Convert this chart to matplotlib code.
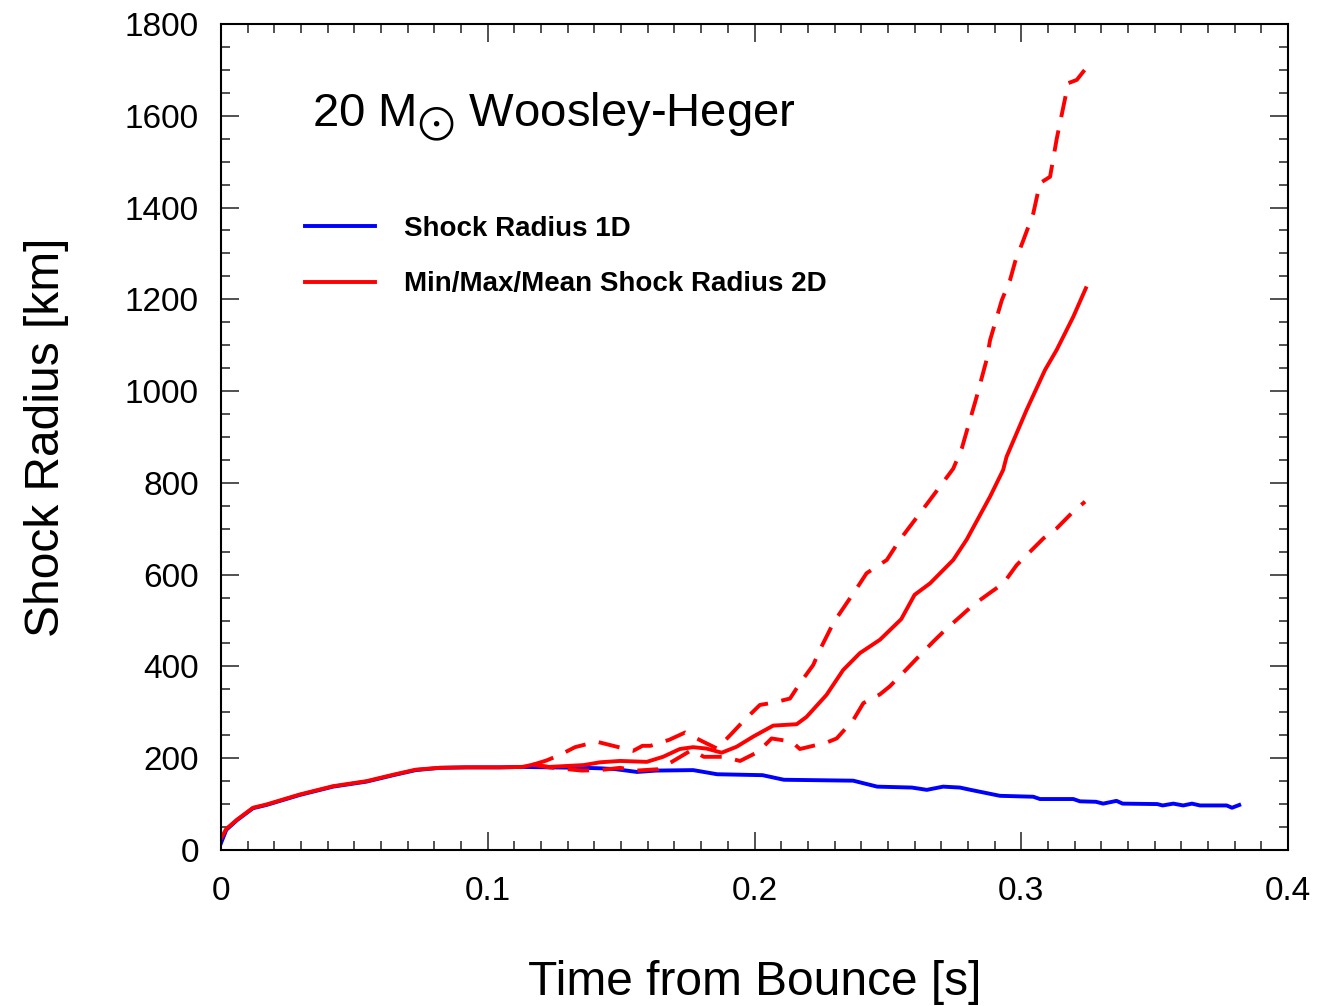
import numpy as np
import matplotlib.pyplot as plt
from matplotlib.ticker import MultipleLocator

plt.rcParams['font.family'] = ['Liberation Sans', 'DejaVu Sans']

# 1D shock radius
t_1d = [0.0, 0.002, 0.006, 0.012, 0.017, 0.0296, 0.042, 0.0546, 0.0646, 0.073,
        0.082, 0.092, 0.1046, 0.113, 0.123, 0.136, 0.142, 0.148, 0.156, 0.163,
        0.177, 0.186, 0.203, 0.211, 0.237, 0.246, 0.259, 0.2646, 0.2707, 0.277,
        0.281, 0.292, 0.3045, 0.307, 0.3195, 0.322, 0.328, 0.3307, 0.3357, 0.338,
        0.351, 0.353, 0.357, 0.3607, 0.364, 0.367, 0.377, 0.379, 0.3817]
r_1d = [15, 44, 65, 91, 98, 120, 138, 149, 163, 174,
        179, 180, 180, 181, 180, 179, 178, 176, 170, 173,
        174, 165, 163, 153, 151, 138, 136, 131, 138, 136,
        131, 118, 116, 111, 111, 106, 105, 101, 107, 101,
        100, 97, 101, 97, 101, 97, 97, 92, 98]

# 2D mean shock radius
t_mean = [0.0, 0.002, 0.006, 0.012, 0.017, 0.0296, 0.042, 0.0546, 0.0646, 0.073,
          0.082, 0.092, 0.1046, 0.113, 0.117, 0.123, 0.136, 0.142, 0.1496, 0.1596,
          0.1657, 0.172, 0.177, 0.182, 0.1877, 0.1933, 0.1995, 0.207, 0.2158, 0.2195,
          0.227, 0.2332, 0.2395, 0.247, 0.255, 0.260, 0.2658, 0.2745, 0.2795, 0.2883,
          0.2932, 0.2945, 0.302, 0.3089, 0.3133, 0.3195, 0.3242]
r_mean = [25, 46, 66, 92, 99, 121, 139, 150, 164, 175,
          179, 180, 180, 181, 186, 181, 185, 191, 194, 192,
          203, 220, 224, 221, 212, 225, 247, 271, 274, 290,
          338, 392, 429, 458, 503, 556, 581, 632, 676, 770,
          828, 857, 959, 1046, 1090, 1162, 1224]

# 2D max shock radius
t_max = [0.117, 0.122, 0.127, 0.1327, 0.1408, 0.147, 0.1545, 0.158, 0.161, 0.168,
         0.174, 0.1807, 0.186, 0.1915, 0.1957, 0.202, 0.207, 0.2133, 0.217, 0.222,
         0.2245, 0.2295, 0.232, 0.2383, 0.242, 0.2496, 0.2545, 0.2658, 0.2745, 0.2777,
         0.2833, 0.287, 0.2883, 0.2927, 0.2958, 0.2977, 0.3008, 0.3045, 0.307, 0.3108,
         0.3133, 0.3158, 0.3176, 0.3208, 0.3242]
r_max = [186, 195, 207, 224, 236, 227, 216, 227, 227, 240,
         256, 236, 221, 254, 280, 316, 321, 330, 363, 403,
         436, 494, 516, 570, 603, 632, 676, 763, 831, 875,
         988, 1068, 1111, 1198, 1242, 1282, 1329, 1387, 1453, 1467,
         1550, 1620, 1671, 1678, 1703]

# 2D min shock radius
t_min = [0.117, 0.123, 0.1352, 0.142, 0.1496, 0.1558, 0.1639, 0.169, 0.1765, 0.181,
         0.1883, 0.1946, 0.2014, 0.2064, 0.214, 0.217, 0.227, 0.2308, 0.237, 0.2408,
         0.247, 0.2508, 0.257, 0.2608, 0.267, 0.2714, 0.277, 0.282, 0.2889, 0.2933,
         0.2983, 0.3083, 0.3133, 0.3189, 0.3239]
r_min = [186, 180, 173, 174, 179, 173, 176, 192, 218, 203,
         203, 194, 214, 243, 236, 220, 234, 243, 283, 320,
         339, 357, 394, 417, 454, 479, 508, 534, 563, 581,
         621, 679, 701, 734, 759]

fig = plt.figure(figsize=(13.17, 10.06), dpi=100)
ax = fig.add_axes([0.1678, 0.1551, 0.8102, 0.8211])

lw = 2.8
ax.plot(t_1d, r_1d, color='#0000ff', lw=lw, label='Shock Radius 1D')
ax.plot(t_max, r_max, color='#ff0000', lw=lw, ls=(0, (5.5, 3.5)))
ax.plot(t_min, r_min, color='#ff0000', lw=lw, ls=(0, (5.5, 3.5)))
ax.plot(t_mean, r_mean, color='#ff0000', lw=lw, label='Min/Max/Mean Shock Radius 2D')

ax.set_xlim(0, 0.4)
ax.set_ylim(0, 1800)
ax.xaxis.set_major_locator(MultipleLocator(0.1))
ax.xaxis.set_minor_locator(MultipleLocator(0.01))
ax.yaxis.set_major_locator(MultipleLocator(200))
ax.yaxis.set_minor_locator(MultipleLocator(50))
ax.set_xticks([0, 0.1, 0.2, 0.3, 0.4], ['0', '0.1', '0.2', '0.3', '0.4'])

ax.tick_params(which='both', direction='in', top=True, right=True,
               labelsize=24, color='#333333')
ax.tick_params(axis='x', pad=19)
ax.tick_params(axis='y', pad=16)
ax.tick_params(which='major', length=13, width=1.2)
ax.tick_params(which='minor', length=6.5, width=1.2)
for s in ax.spines.values():
    s.set_linewidth(1.5)

ax.set_xlabel('Time from Bounce [s]', fontsize=34.5, labelpad=38)
ax.set_ylabel('Shock Radius [km]', fontsize=34.5, labelpad=40)

ax.text(0.085, 0.875, r'20 M$_{\bigodot}$ Woosley-Heger', transform=ax.transAxes,
        fontsize=34, ha='left', va='baseline', math_fontfamily='stixsans')

ax.legend(loc='upper left', bbox_to_anchor=(0.079, 0.768), frameon=False,
          prop={'weight': 'bold', 'size': 20}, handlelength=2.5,
          handletextpad=1.05, labelspacing=1.07, borderpad=0, borderaxespad=0)

fig.savefig('out.png', dpi=100)
